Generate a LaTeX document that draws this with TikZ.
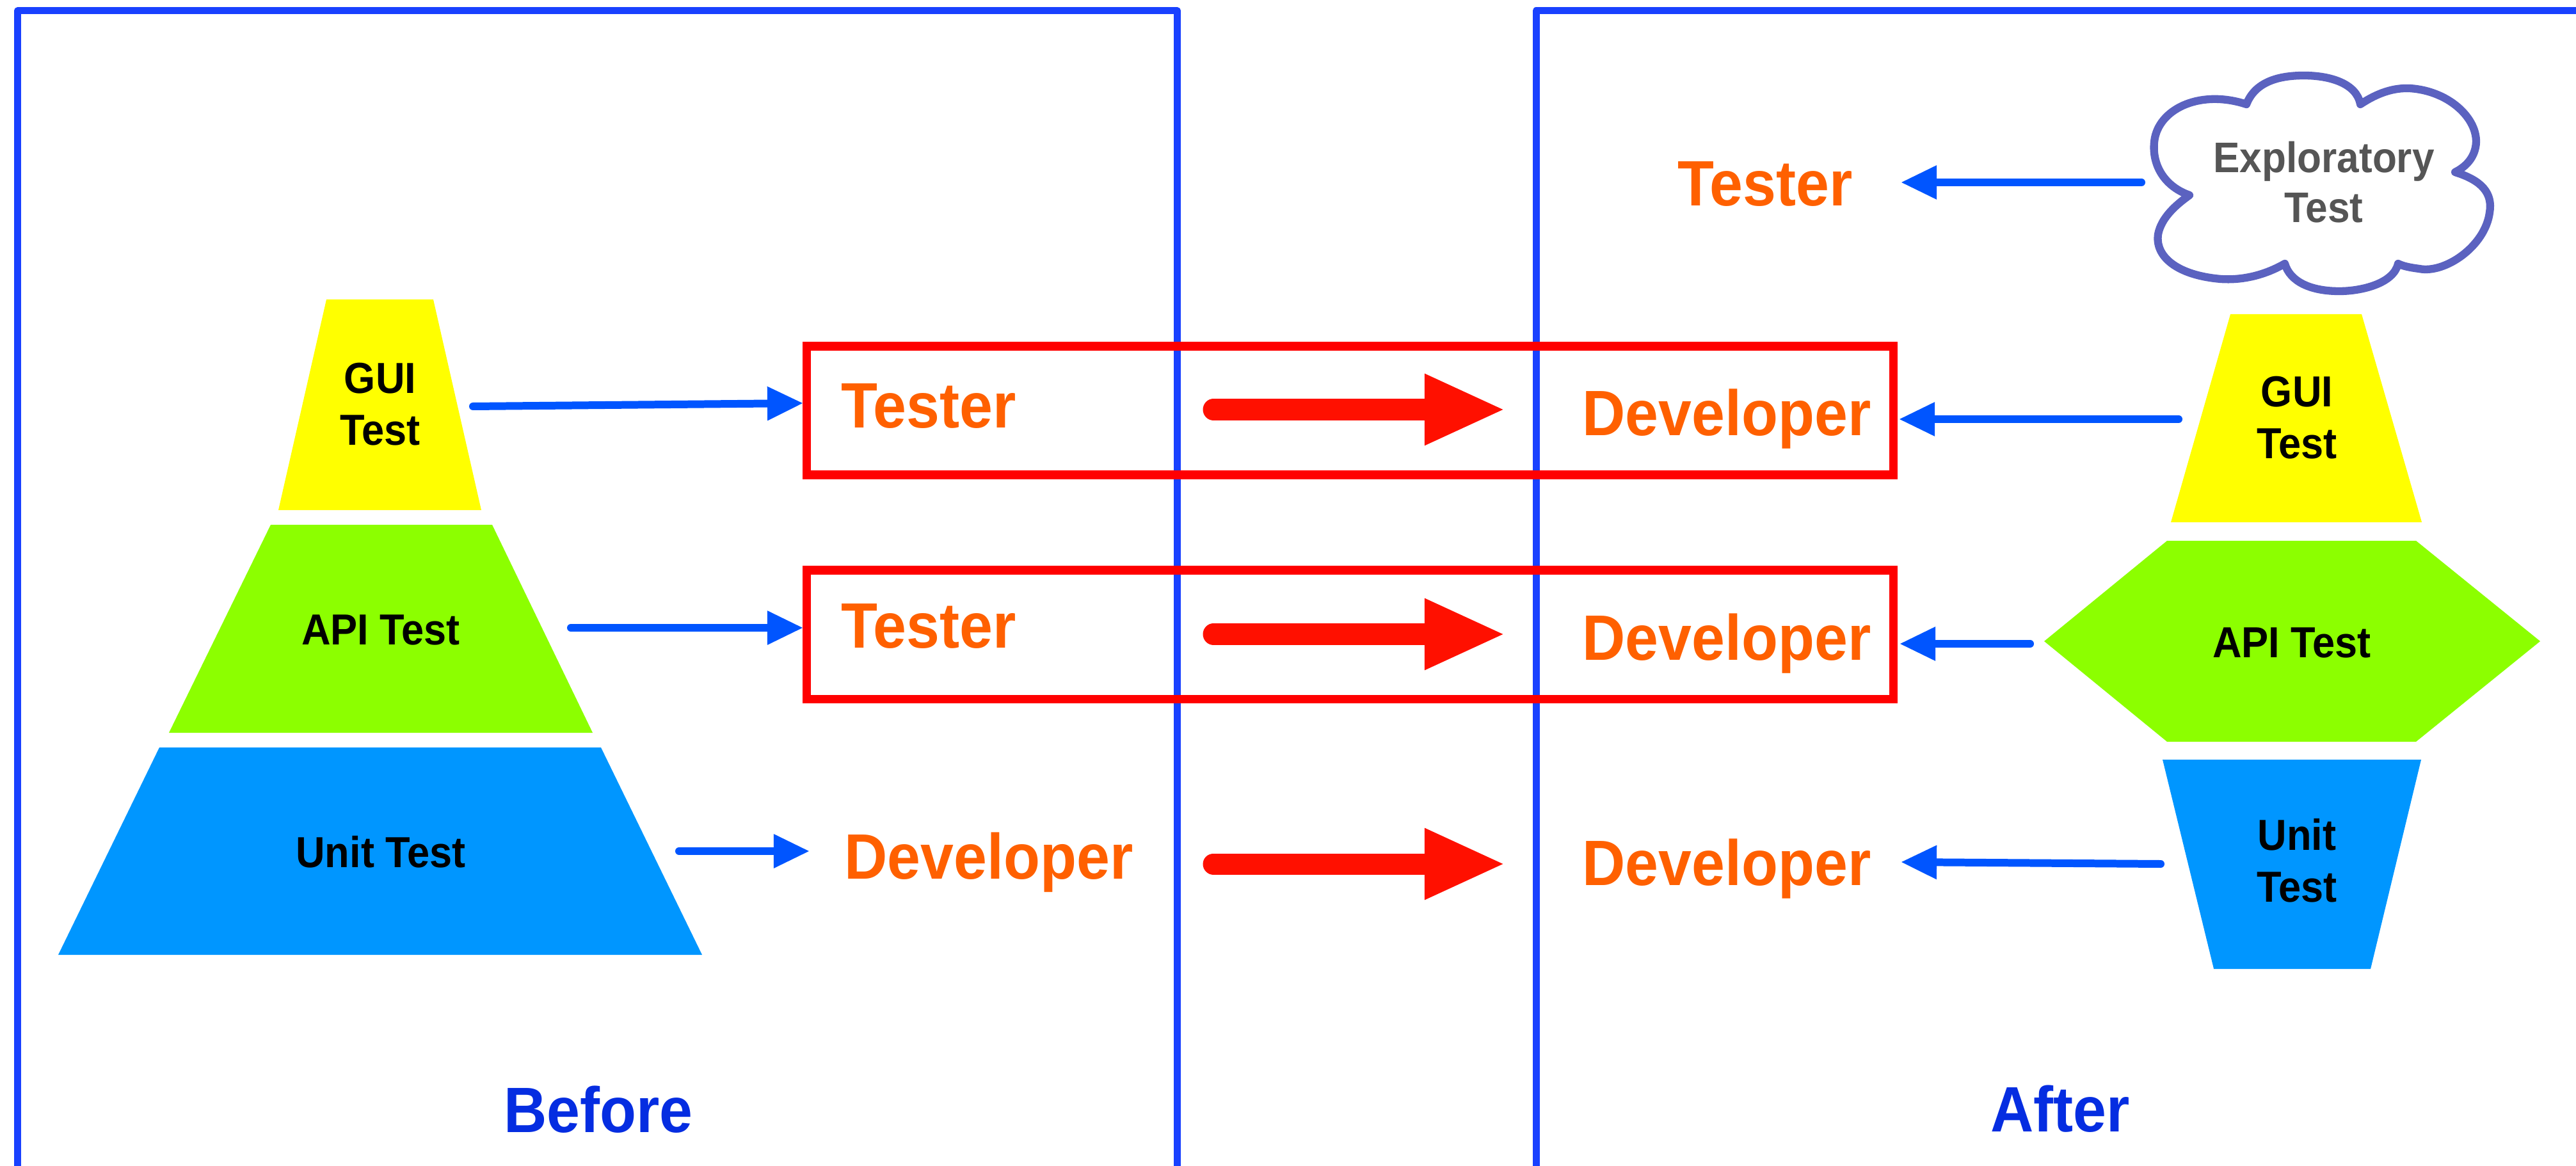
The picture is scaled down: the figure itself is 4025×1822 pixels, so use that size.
\documentclass[tikz,border=0pt]{standalone}
\usepackage{fontspec}
\setmainfont{Liberation Sans}[FakeStretch=0.93]
\usetikzlibrary{arrows.meta}
\definecolor{panelblue}{RGB}{25,65,255}
\definecolor{arrowblue}{RGB}{0,85,255}
\definecolor{boxred}{RGB}{255,0,0}
\definecolor{bigred}{RGB}{255,16,0}
\definecolor{roleorange}{RGB}{255,96,0}
\definecolor{guiyellow}{RGB}{255,255,0}
\definecolor{apigreen}{RGB}{140,255,0}
\definecolor{unitblue}{RGB}{0,150,255}
\definecolor{cloudline}{RGB}{91,98,192}
\definecolor{cloudtext}{RGB}{85,85,85}
\definecolor{titleblue}{RGB}{5,45,225}
\begin{document}
\begin{tikzpicture}[x=0.01cm,y=-0.01cm,
  panelline/.style={draw=panelblue,line width=3.13pt,line join=round},
  redframe/.style={draw=boxred,line width=3.7pt},
  rolelabel/.style={text=roleorange,font=\bfseries\fontsize{28.5}{34}\selectfont,inner sep=0pt,anchor=base},
  paneltitle/.style={text=titleblue,font=\bfseries\fontsize{28.5}{34}\selectfont,inner sep=0pt,anchor=base},
  layertext/.style={font=\bfseries\fontsize{19.3}{23}\selectfont,align=center,inner sep=0pt},
  connector/.style={draw=arrowblue,line width=3.41pt,line cap=round,-{Triangle[length=0.56cm,width=0.5cm]}},
  bigarrow/.style={draw=bigred,line width=9.39pt,line cap=round,-{Triangle[length=1.27cm,width=1.02cm]}}]
\useasboundingbox (0,0) rectangle (4025,1822);

% panels
\draw[panelline] (27.5,1850) -- (27.5,17) -- (1839.5,17) -- (1839.5,1850);
\draw[panelline] (2400,1850) -- (2400,17) -- (4060,17);

% left pyramid
\fill[guiyellow] (510,468) -- (677,468) -- (752,797) -- (435,797) -- cycle;
\fill[apigreen] (423,820) -- (769,820) -- (926,1145) -- (264,1145) -- cycle;
\fill[unitblue] (249,1168) -- (939,1168) -- (1097,1492) -- (91,1492) -- cycle;
\node[layertext] (guiL) at (594,632) {GUI\\Test};
\node[layertext,anchor=base] (apiL) at (595,1007) {API Test};
\node[layertext,anchor=base] (unitL) at (595,1355) {Unit Test};

% right shapes
\fill[guiyellow] (3485,491) -- (3690,491) -- (3784,816) -- (3392,816) -- cycle;
\fill[apigreen] (3386,845) -- (3775,845) -- (3969,1002) -- (3775,1159) -- (3386,1159) -- (3194,1002) -- cycle;
\fill[unitblue] (3379,1187) -- (3783,1187) -- (3704,1514) -- (3459,1514) -- cycle;
\node[layertext] (guiR) at (3589,653) {GUI\\Test};
\node[layertext,anchor=base] (apiR) at (3581,1027) {API Test};
\node[layertext] (unitR) at (3589,1345) {Unit\\Test};

% cloud
\draw[cloudline,line width=3.5pt,fill=white,line join=round]
  (3421,305) .. controls (3378,290) and (3360,252) .. (3367,215)
  .. controls (3377,168) and (3440,140) .. (3510,163)
  .. controls (3525,124) and (3568,118) .. (3600,118)
  .. controls (3640,118) and (3682,130) .. (3688,163)
  .. controls (3715,145) and (3740,137) .. (3765,138)
  .. controls (3830,142) and (3876,190) .. (3868,230)
  .. controls (3864,250) and (3850,262) .. (3836,269)
  .. controls (3878,282) and (3895,302) .. (3890,332)
  .. controls (3883,385) and (3820,428) .. (3780,420)
  .. controls (3765,418) and (3755,416) .. (3747,412)
  .. controls (3740,443) and (3690,455) .. (3655,455)
  .. controls (3610,455) and (3578,440) .. (3570,412)
  .. controls (3535,432) and (3500,438) .. (3470,436)
  .. controls (3400,430) and (3367,400) .. (3372,366)
  .. controls (3377,340) and (3400,320) .. (3421,305) -- cycle;
\node[layertext,text=cloudtext,font=\bfseries\fontsize{19}{22.2}\selectfont] (explore) at (3631,285) {Exploratory\\Test};

% red frames
\draw[redframe] (1260.5,541) rectangle (2958.5,742);
\draw[redframe] (1260.5,891) rectangle (2958.5,1092);

% role labels
\node[rolelabel] (tester1) at (1451,669) {Tester};
\node[rolelabel] (tester2) at (1451,1012) {Tester};
\node[rolelabel] (devL3) at (1545,1373) {Developer};
\node[rolelabel] (devR1) at (2698,680) {Developer};
\node[rolelabel] (devR2) at (2698,1031) {Developer};
\node[rolelabel] (devR3) at (2698,1383) {Developer};
\node[rolelabel] (testerR) at (2758,322) {Tester};

% titles
\node[paneltitle] (before) at (935,1769) {Before};
\node[paneltitle] (after) at (3219,1768) {After};

% connector end points
\coordinate (guiLout) at (739,635);
\coordinate (frame1in) at (1255,630);
\coordinate (apiLout) at (892,981);
\coordinate (frame2in) at (1255,981);
\coordinate (unitLout) at (1061,1330);
\coordinate (devL3in) at (1265,1330);
\coordinate (exploreout) at (3346,285);
\coordinate (testerRin) at (2970,285);
\coordinate (guiRout) at (3404,655);
\coordinate (frame1out) at (2967,655);
\coordinate (apiRout) at (3172,1006);
\coordinate (frame2out) at (2968,1006);
\coordinate (unitRout) at (3376,1350);
\coordinate (devR3in) at (2970,1347);

\draw[connector] (guiLout) -- (frame1in);
\draw[connector] (apiLout) -- (frame2in);
\draw[connector] (unitLout) -- (devL3in);
\draw[connector] (exploreout) -- (testerRin);
\draw[connector] (guiRout) -- (frame1out);
\draw[connector] (apiRout) -- (frame2out);
\draw[connector] (unitRout) -- (devR3in);

% big red arrows
\coordinate (shift1a) at (1896,640);
\coordinate (shift1b) at (2353,640);
\coordinate (shift2a) at (1896,991);
\coordinate (shift2b) at (2353,991);
\coordinate (shift3a) at (1896,1350);
\coordinate (shift3b) at (2353,1350);
\draw[bigarrow] (shift1a) -- (shift1b);
\draw[bigarrow] (shift2a) -- (shift2b);
\draw[bigarrow] (shift3a) -- (shift3b);
\end{tikzpicture}
\end{document}
